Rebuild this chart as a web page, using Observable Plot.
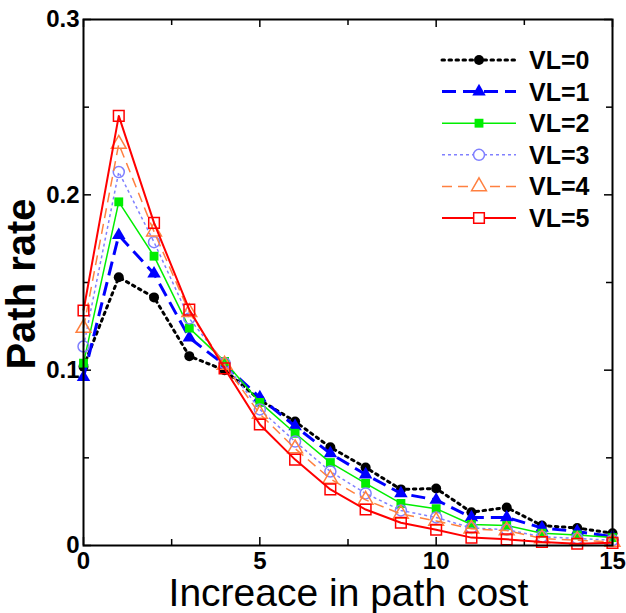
<!DOCTYPE html>
<html>
<head>
<meta charset="utf-8">
<script src="https://cdn.jsdelivr.net/npm/d3@7"></script>
<script src="https://cdn.jsdelivr.net/npm/@observablehq/plot@0.6"></script>
<style>
  html, body { margin: 0; padding: 0; background: #fff; }
  #chart svg { display: block; }
</style>
</head>
<body>
<div id="chart"></div>
<script>
// ---- data ----
const xs = [0,1,2,3,4,5,6,7,8,9,10,11,12,13,14,15];
const vl0 = [0.102,0.153,0.1415,0.108,0.100,0.083,0.0707,0.056,0.0445,0.032,0.0325,0.019,0.0217,0.0114,0.010,0.007];
const vl1 = [0.096,0.177,0.155,0.1185,0.103,0.0844,0.068,0.0525,0.0405,0.0297,0.026,0.016,0.016,0.010,0.008,0.005];
const vl2 = [0.104,0.196,0.165,0.124,0.105,0.0816,0.064,0.0473,0.0354,0.024,0.021,0.012,0.0114,0.007,0.006,0.0045];
const vl3 = [0.1135,0.213,0.173,0.1295,0.104,0.0776,0.0593,0.0422,0.0297,0.020,0.016,0.010,0.009,0.005,0.004,0.003];
const vl4 = [0.124,0.229,0.179,0.133,0.103,0.075,0.0553,0.038,0.026,0.018,0.014,0.0095,0.0085,0.004,0.003,0.002];
const vl5 = [0.134,0.245,0.184,0.1345,0.101,0.069,0.049,0.032,0.0205,0.013,0.009,0.0045,0.0035,0.002,0.001,0.0015];
const seriesNames = ["VL=0","VL=1","VL=2","VL=3","VL=4","VL=5"];
const xTicks = [0,5,10,15];
const xMinor = [2.5,7.5,12.5];
const yTicks = [0,0.1,0.2,0.3];
const yMinor = [0.05,0.15,0.25];
const xLabel = "Increace in path cost";
const yLabel = "Path rate";

// ---- styles ----
const styles = [
  {color:"#000000", width:3,   dash:"2.5,4.5", symbol:"circle",   filled:true,  r:5},
  {color:"#0000ff", width:3,   dash:"14,7",    symbol:"triangle", filled:true,  r:5},
  {color:"#00ee00", width:1.5, dash:null,      symbol:"square",   filled:true,  r:5},
  {color:"#8080ff", width:1.5, dash:"3,3",     symbol:"circle",   filled:false, r:5.5},
  {color:"#ff8040", width:1.5, dash:"10,6",    symbol:"triangle", filled:false, r:5.5},
  {color:"#ff0000", width:2,   dash:null,      symbol:"square",   filled:false, r:6}
];
const allSeries = [vl0,vl1,vl2,vl3,vl4,vl5];
const data = allSeries.map((ys, i) => xs.map((x, j) => ({x, y: ys[j], s: seriesNames[i]})));

const W = 626, H = 613;
const mL = 83, mR = 14, mT = 19, mB = 68;
const innerH = H - mT - mB;
const innerW = W - mL - mR;
const FONT = "'Liberation Sans', Arial, sans-serif";

const marks = [];
data.forEach((d, i) => {
  const st = styles[i];
  marks.push(Plot.line(d, {x:"x", y:"y", stroke: st.color, strokeWidth: st.width,
    strokeDasharray: st.dash || undefined, strokeLinecap: i === 0 ? "round" : "butt"}));
  marks.push(Plot.dot(d, {x:"x", y:"y", symbol: st.symbol, r: st.r,
    fill: st.filled ? st.color : "none", stroke: st.color, strokeWidth: st.filled ? 0 : 1.5}));
});

const plot = Plot.plot({
  width: W, height: H,
  marginLeft: mL, marginRight: mR, marginTop: mT, marginBottom: mB,
  style: {fontFamily: FONT, background: "#fff", overflow: "visible"},
  x: {domain: [0, 15]},
  y: {domain: [0, 0.3]},
  marks: [
    Plot.axisX(xTicks, {tickSize: 0, tickPadding: 6, fontSize: 24, fontWeight: "bold", label: null, fill: "#000"}),
    Plot.axisY(yTicks, {tickSize: 0, tickPadding: 4, fontSize: 24, fontWeight: "bold", label: null, fill: "#000",
      tickFormat: d => d === 0 ? "0" : d.toFixed(1)}),
    // inward ticks
    Plot.tickX(xTicks, {x: d => d, insetTop: innerH - 8, stroke: "#000", strokeWidth: 1.5}),
    Plot.tickX(xTicks, {x: d => d, insetBottom: innerH - 8, stroke: "#000", strokeWidth: 1.5}),
    Plot.tickX(xMinor, {x: d => d, insetTop: innerH - 6, stroke: "#000", strokeWidth: 1.5}),
    Plot.tickX(xMinor, {x: d => d, insetBottom: innerH - 6, stroke: "#000", strokeWidth: 1.5}),
    Plot.tickY(yTicks, {y: d => d, insetRight: innerW - 8, stroke: "#000", strokeWidth: 1.5}),
    Plot.tickY(yTicks, {y: d => d, insetLeft: innerW - 8, stroke: "#000", strokeWidth: 1.5}),
    Plot.tickY(yMinor, {y: d => d, insetRight: innerW - 6, stroke: "#000", strokeWidth: 1.5}),
    Plot.tickY(yMinor, {y: d => d, insetLeft: innerW - 6, stroke: "#000", strokeWidth: 1.5}),
    ...marks,
    Plot.frame({stroke: "#000", strokeWidth: 2})
  ]
});
document.getElementById("chart").appendChild(plot);

// ---- axis titles and legend ----
const svg = d3.select(plot);
svg.append("text")
  .attr("x", (mL + W - mR) / 2 + 1).attr("y", 606)
  .attr("text-anchor", "middle")
  .style("font-family", FONT)
  .style("font-size", "39px").attr("fill", "#000")
  .text(xLabel);
svg.append("text")
  .attr("transform", `translate(35,${mT + innerH / 2 + 2}) rotate(-90)`)
  .attr("text-anchor", "middle")
  .style("font-family", FONT)
  .style("font-size", "40px").style("font-weight", "bold").attr("fill", "#000")
  .text(yLabel);

const leg = svg.append("g");
const symMap = {circle: d3.symbolCircle, triangle: d3.symbolTriangle, square: d3.symbolSquare};
seriesNames.forEach((name, i) => {
  const st = styles[i];
  const y = 60 + i * 31.6;
  leg.append("line").attr("x1", 442).attr("x2", 516).attr("y1", y).attr("y2", y)
    .attr("stroke", st.color).attr("stroke-width", st.width)
    .attr("stroke-dasharray", st.dash || null)
    .attr("stroke-linecap", i === 0 ? "round" : "butt");
  leg.append("path")
    .attr("d", d3.symbol(symMap[st.symbol], st.r * st.r * Math.PI)())
    .attr("transform", `translate(479,${y})`)
    .attr("fill", st.filled ? st.color : "#fff")
    .attr("stroke", st.color).attr("stroke-width", st.filled ? 0 : 1.5);
  leg.append("text").attr("x", 529).attr("y", y).attr("dy", "0.36em")
    .attr("text-anchor", "start")
    .style("font-family", FONT)
    .style("font-size", "25px").style("font-weight", "bold").attr("fill", "#000")
    .text(name);
});
</script>
</body>
</html>
